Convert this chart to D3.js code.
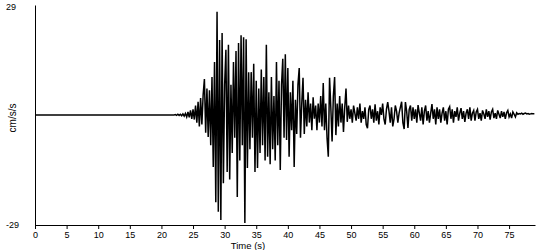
<!DOCTYPE html>
<html>
<head>
<meta charset="utf-8">
<script src="https://cdn.jsdelivr.net/npm/d3@7"></script>
<style>
  body { margin: 0; background: #fff; }
  #chart text { font-family: "Liberation Sans", Arial, sans-serif; font-size: 9px; fill: #000; }
</style>
</head>
<body>
<div id="chart"></div>
<script>
// Record settings
var recordStart = 0;      // s, trace is flat until the first sample below
var sampleStart = 22;     // s, time of first value in accel
var sampleStep = 0.2;     // s
var timeEnd = 79.1;       // s, end of x axis
var accelLimits = [-29, 29];
var timeTicks = [0, 5, 10, 15, 20, 25, 30, 35, 40, 45, 50, 55, 60, 65, 70, 75];

// Acceleration (cm/s/s), one row per 2 s
var accel = [
  0, 0.1, -0.1, 0.2, -0.1, 0.2, -0.2, 0.3, -0.3, 0.4,            // 22
  -0.5, 0.8, -0.6, 1.2, -1.0, 1.5, -1.2, 2.5, -2.0, 3.5,         // 24
  -3.0, 4.5, -2.5, 5.3, 9.5, -4.7, 7.0, -5.8, 6.5, -8.0,         // 26
  10.0, -13.7, 14.0, -23.0, 27.2, -25.5, 19.8, -27.7, 21.6, -18.0, // 28
  8, 17.2, -15, 18.5, -17, 8, -10, 14, -6, 16.9,                 // 30
  -21.6, 19.0, -12, 21.0, -8, 20.5, -28.5, 20.0, -14, 11.3,      // 32
  -9, 11.3, -6, 13.5, -15.0, 9, -14.0, 7, -10, 12,               // 34
  -8, 10, -12, 18.5, -11, 6, -13, 10, -9, 5,                     // 36
  -12, 14, -8, 9, -14.5, 8, 14.8, -6, 16, -6.6,                  // 38
  12.4, -11, 6, -4, 9, -13.7, 4, -5, 8, 12.4,                    // 40
  -6, 3, 9.8, -5, 4, -3, 6, -2, 3, -4,                           // 42
  4.7, -1, 2.5, -4, 3, -2, 5, -3, 8.4, -4,                       // 44
  3, -6, -11, 9.8, 2, -7, 5, 10, -5.3, 3,                        // 46
  -3, 5, -2, 3, -4.5, 2, 7, -1.8, 2.5, -1,                       // 48
  1.5, -2, 2.5, 0.5, -1.5, 2, -1, 3, -2, 1,                      // 50
  -1, 2, -2.5, -3.5, 1.5, 2.5, -1, 1.5, -2, 2.8,                 // 52
  -1.5, 1, -2.5, 2, 0, 3, -1, -2.5, 1.5, 3.4,                    // 54
  1, -2, 2, -3, -1, 2.5, 1, -2, 0.5, 2,                          // 56
  3.5, -2, -3.7, 3.4, 1, -3.4, 1.5, 2.5, -1.5, 2,                // 58
  -1, 1.5, -2, 2.6, 0.5, -1.5, 2, -2.5, 1, 2.5,                  // 60
  -1.5, 1, -2, 0.5, 2.9, -1, 1.5, -2.5, 2, -1,                   // 62
  1.5, -2, 0.5, 2, -1.5, 1, -2.5, 1.5, 2.2, -1,                  // 64
  1.5, -2, 1, -0.5, 2, -1.5, 0.5, 1.8, -1, 1,                    // 66
  -1.8, 0.5, 1.5, -1, 2, -1.5, 0.5, 1.2, -1.5, 0.8,              // 68
  1.5, -1, 0.5, -1.5, 1.2, 0.3, -1, 1.5, -0.5, 1,                // 70
  -1.2, 0.8, 1.5, -0.8, 0.5, -1, 1.2, 0.2, -0.8, 1,              // 72
  -0.5, 0.8, -1, 0.6, 1.2, -0.5, 0.3, -0.8, 0.8, 0.2,            // 74
  -0.5, 0.6, 0.2, 0.4, 0.3, 0.5, 0.2, 0.4, 0.5, 0.3,             // 76
  0.4, 0.2, 0.3, 0.4, 0.3, 0.3                                   // 78
];

function init() {
    var w = 550;
    var h = 250;

    // Build [time, value] pairs, flat start first
    var points = [[recordStart, 0]].concat(accel.map(function(v, i) {
      return [sampleStart + i * sampleStep, v];
    }));

    var svg = d3.select("#chart")
                .append("svg")
                .attr("width", w)
                .attr("height", h);

    var xScale = d3.scaleLinear()
                   .domain([0, timeEnd])
                   .range([35, 535]);

    var yScale = d3.scaleLinear()
                   .domain(accelLimits)
                   .range([225, 5]);

    // Trace
    var line = d3.line()
                 .x(function(d) { return xScale(d[0]); })
                 .y(function(d) { return yScale(d[1]); });

    svg.append("path")
       .datum(points)
       .attr("d", line)
       .attr("fill", "none")
       .attr("stroke", "#000")
       .attr("stroke-width", 1.5)
       .attr("stroke-linejoin", "miter");

    // Time axis
    var xAxis = d3.axisBottom(xScale)
                  .tickValues(timeTicks)
                  .tickSize(4)
                  .tickSizeOuter(0)
                  .tickPadding(3);

    var gx = svg.append("g")
                .attr("transform", "translate(0,225)")
                .call(xAxis);
    gx.selectAll("text").attr("font-family", null).attr("font-size", null);
    gx.select(".domain").attr("stroke", "#000");
    gx.selectAll(".tick line").attr("stroke", "#000");

    // Acceleration axis: a line with end labels only (plain hyphen for minus)
    var yAxis = d3.axisLeft(yScale)
                  .tickValues(accelLimits)
                  .tickFormat(function(d) { return String(d); })
                  .tickSize(0)
                  .tickSizeOuter(0);

    var gy = svg.append("g")
                .attr("transform", "translate(35,0)")
                .call(yAxis);
    gy.selectAll("text")
      .attr("font-family", null)
      .attr("font-size", null)
      .attr("x", function(d) { return d > 0 ? -19 : -16; })
      .attr("dy", function(d) { return d > 0 ? "0.45em" : "0.32em"; });
    gy.select(".domain").attr("stroke", "#000");

    // Axis titles
    svg.append("text")
       .attr("x", 248)
       .attr("y", 249)
       .attr("text-anchor", "middle")
       .style("font-size", "9.5px")
       .text("Time (s)");

    svg.append("text")
       .attr("transform", "translate(15.5,118) rotate(-90)")
       .attr("text-anchor", "middle")
       .style("font-size", "10px")
       .text("cm/s/s");
}

window.onload = init;
</script>
</body>
</html>
